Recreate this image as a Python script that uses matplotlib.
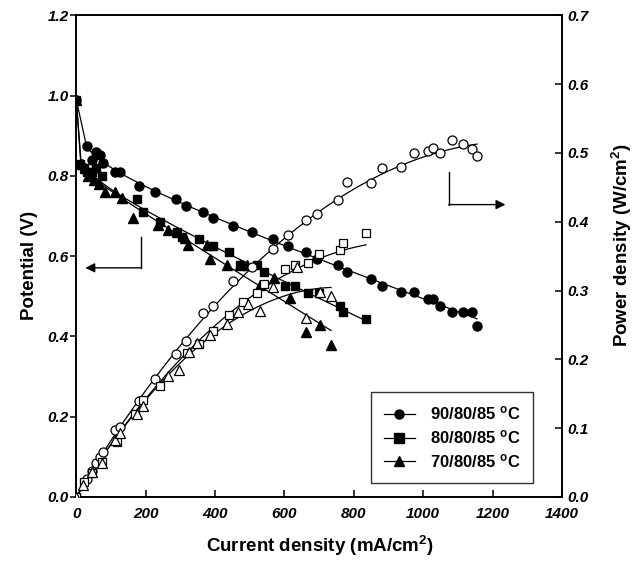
import numpy as np
import matplotlib
matplotlib.use("Agg")
import matplotlib.pyplot as plt
from matplotlib.lines import Line2D

plt.rcParams['font.family'] = ['Liberation Sans', 'DejaVu Sans']
plt.rcParams['mathtext.fontset'] = 'custom'
plt.rcParams['mathtext.rm'] = 'Liberation Sans:bold'
plt.rcParams['mathtext.it'] = 'Liberation Sans:bold'
plt.rcParams['mathtext.bf'] = 'Liberation Sans:bold'

# ---------------- data ----------------
# 90/80/85 C
i90 = [0, 30, 45, 57, 68, 77, 112, 126, 181, 227, 287, 316, 365, 394, 452, 507, 567, 610, 662, 694,
       754, 780, 849, 881, 936, 973, 1014, 1028, 1048, 1083, 1115, 1140, 1155]
v90 = [0.99, 0.875, 0.84, 0.86, 0.852, 0.832, 0.81, 0.81, 0.775, 0.760, 0.743, 0.725, 0.710, 0.695,
       0.675, 0.660, 0.643, 0.625, 0.611, 0.593, 0.578, 0.561, 0.543, 0.526, 0.511, 0.511, 0.493,
       0.493, 0.476, 0.461, 0.461, 0.461, 0.426]
p90 = [0, 0.026, 0.038, 0.049, 0.058, 0.065, 0.097, 0.102, 0.140, 0.172, 0.208, 0.227, 0.267, 0.278,
       0.314, 0.335, 0.360, 0.381, 0.403, 0.411, 0.431, 0.458, 0.456, 0.478, 0.480, 0.500, 0.503,
       0.507, 0.500, 0.519, 0.513, 0.506, 0.495]

# 80/80/85 C
i80 = [0, 12, 22, 32, 45, 58, 74, 174, 193, 241, 289, 305, 354, 394, 440, 472, 521, 541, 601, 630,
       668, 700, 760, 769, 835]
v80 = [0.99, 0.83, 0.82, 0.81, 0.81, 0.82, 0.80, 0.743, 0.710, 0.685, 0.661, 0.648, 0.643, 0.625,
       0.611, 0.578, 0.578, 0.561, 0.526, 0.526, 0.508, 0.508, 0.476, 0.461, 0.444]
ip80 = [0, 22, 45, 74, 118, 169, 192, 241, 319, 354, 394, 440, 480, 521, 541, 601, 630, 668, 700,
        760, 769, 835]
p80 = [0, 0.022, 0.035, 0.051, 0.080, 0.121, 0.141, 0.161, 0.209, 0.222, 0.241, 0.265, 0.283, 0.297,
       0.310, 0.331, 0.337, 0.340, 0.353, 0.359, 0.369, 0.384]

# 70/80/85 C
i70 = [0, 15, 25, 35, 50, 65, 83, 112, 132, 163, 236, 265, 290, 313, 322, 377, 385, 434, 472, 492,
       530, 570, 616, 662, 702, 734]
v70 = [0.99, 0.83, 0.82, 0.80, 0.79, 0.78, 0.760, 0.760, 0.745, 0.695, 0.678, 0.665, 0.660, 0.645,
       0.628, 0.628, 0.593, 0.578, 0.578, 0.578, 0.528, 0.546, 0.496, 0.411, 0.429, 0.379]
ip70 = [0, 20, 45, 74, 112, 126, 175, 192, 265, 296, 325, 348, 385, 434, 466, 495, 530, 567, 636,
        662, 702, 734]
p70 = [0, 0.017, 0.036, 0.049, 0.083, 0.093, 0.121, 0.132, 0.176, 0.185, 0.211, 0.224, 0.235, 0.251,
       0.269, 0.281, 0.270, 0.305, 0.334, 0.260, 0.298, 0.292]

labels = ['90/80/85 $^\\mathrm{o}$C', '80/80/85 $^\\mathrm{o}$C', '70/80/85 $^\\mathrm{o}$C']
xticks = [0, 200, 400, 600, 800, 1000, 1200, 1400]
yticks_left = [0.0, 0.2, 0.4, 0.6, 0.8, 1.0, 1.2]
yticks_right = [0.0, 0.1, 0.2, 0.3, 0.4, 0.5, 0.6, 0.7]

# ---------------- figure ----------------
fig = plt.figure(figsize=(6.4, 5.62), dpi=100)
ax = fig.add_axes([76.3 / 640, 65 / 562, 485.7 / 640, 481.6 / 562])
ax2 = ax.twinx()

ax.set_xlim(0, 1400)
ax.set_ylim(0, 1.2)
ax2.set_ylim(0, 0.7)

def vfit(I, V):
    I = np.asarray(I, float)
    V = np.asarray(V, float)
    m = I > 0
    A = np.column_stack([np.ones(m.sum()), -np.log(I[m]), -I[m]])
    coef, *_ = np.linalg.lstsq(A, V[m], rcond=None)
    xs = np.linspace(I[m].min(), I.max(), 300)
    ys = coef[0] - coef[1] * np.log(xs) - coef[2] * xs
    xs = np.concatenate([[0], xs])
    ys = np.concatenate([[V[0]], ys])
    return xs, ys

lw = 0.9
ms = 6.5
series = [
    (i90, v90, i90, p90, 'o'),
    (i80, v80, ip80, p80, 's'),
    (i70, v70, ip70, p70, '^'),
]
for iv, vv, ip, pp, mk in series:
    xs, ys = vfit(iv, vv)
    ax.plot(xs, ys, color='black', lw=lw, zorder=2)
    ax2.plot(xs, xs * ys / 1000.0, color='black', lw=lw, zorder=2)
    ax.plot(iv, vv, linestyle='none', marker=mk, ms=ms if mk != 's' else ms - 0.5,
            mfc='black', mec='black', zorder=3)
    ax2.plot(ip, pp, linestyle='none', marker=mk, ms=ms if mk != 's' else ms - 0.5,
             mfc='white', mec='black', mew=0.9, zorder=3)

# arrows
ax.plot([187, 187], [0.648, 0.571], color='black', lw=1.0)
ax.annotate('', xy=(26, 0.571), xytext=(187, 0.571),
            arrowprops=dict(arrowstyle='-|>', mutation_scale=14, color='black', lw=1.0,
                            shrinkA=0, shrinkB=0))
ax2.plot([1073, 1073], [0.473, 0.425], color='black', lw=1.0)
ax2.annotate('', xy=(1237, 0.425), xytext=(1073, 0.425),
             arrowprops=dict(arrowstyle='-|>', mutation_scale=14, color='black', lw=1.0,
                             shrinkA=0, shrinkB=0))

# ticks
tfont = dict(fontsize=11, fontweight='bold', fontstyle='italic')
ax.set_xticks(xticks)
ax.set_xticklabels([str(t) for t in xticks], **tfont)
ax.set_yticks(yticks_left)
ax.set_yticklabels(['%.1f' % t for t in yticks_left], **tfont)
ax2.set_yticks(yticks_right)
ax2.set_yticklabels(['%.1f' % t for t in yticks_right], **tfont)
ax.tick_params(axis='x', direction='in', length=5, width=1.1, pad=7, top=False)
ax.tick_params(axis='y', direction='out', length=4, width=1.1, pad=1.5)
ax2.tick_params(axis='y', direction='in', length=5, width=1.1, pad=4)
for a in (ax, ax2):
    for s in a.spines.values():
        s.set_linewidth(1.2)

# axis labels
lfont = dict(fontsize=13.5, fontweight='bold')
fig.text(320 / 640, 1 - 546 / 562, 'Current density (mA/cm$^2$)', ha='center', va='center', **lfont)
fig.text(30 / 640, 1 - 265 / 562, 'Potential (V)', ha='center', va='center', rotation=90, **lfont)
fig.text(622 / 640, 1 - 245 / 562, 'Power density (W/cm$^2$)', ha='center', va='center',
         rotation=90, **lfont)

# legend
handles = [Line2D([], [], color='black', lw=lw, marker=m, ms=ms, mfc='black', mec='black')
           for m in ['o', 's', '^']]
leg = ax2.legend(handles, labels, loc='upper left', bbox_to_anchor=(371 / 640, 1 - 392 / 562),
                 bbox_transform=fig.transFigure, frameon=True, fancybox=False,
                 edgecolor='black', prop=dict(size=12, weight='bold'), handlelength=1.9,
                 handletextpad=0.9, labelspacing=0.35, borderpad=0.75, borderaxespad=0)
leg.get_frame().set_linewidth(1.0)

fig.savefig('out.png', dpi=100)
